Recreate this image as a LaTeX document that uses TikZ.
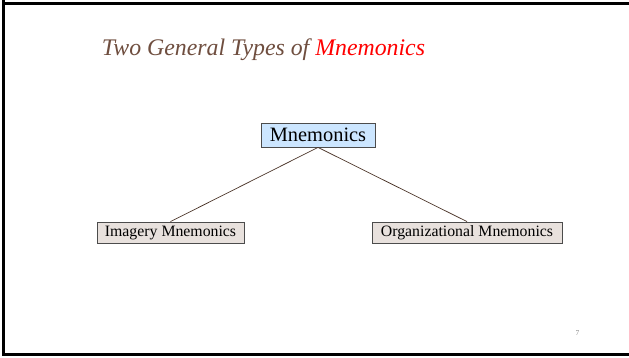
\documentclass[tikz,border=0pt]{standalone}
\usepackage{fontspec}
\setmainfont{Liberation Serif}
\definecolor{titlebrown}{HTML}{6F4E3F}
\definecolor{boxblue}{HTML}{CCE6FF}
\definecolor{boxgray}{HTML}{E8E1DD}
\definecolor{linebrown}{HTML}{4A3428}
\begin{document}
\begin{tikzpicture}[x=1pt,y=-1pt,
  topbox/.style={draw=black!70,line width=0.8pt,fill=boxblue,inner sep=0pt,minimum width=114pt,minimum height=24pt,font=\fontsize{20.4}{22}\selectfont},
  subbox/.style={draw=black!70,line width=0.8pt,fill=boxgray,inner sep=0pt,minimum height=21pt,font=\fontsize{15.8}{17}\selectfont},
  conn/.style={linebrown,line width=0.7pt}]
\useasboundingbox (0,0) rectangle (629,358);
\fill[white] (0,0) rectangle (629,358);
\draw[black,line width=3pt] (3.5,0) -- (3.5,354.5) -- (640,354.5);
\draw[black,line width=3pt] (3.5,3.5) -- (640,3.5);
\node[font=\fontsize{23.8}{28}\selectfont\itshape,text=titlebrown,anchor=base] (title) at (263.5,56) {Two General Types of \textcolor{red}{Mnemonics}};
\node[topbox] (m) at (318,135) {Mnemonics};
\node[subbox,minimum width=147pt] (im) at (170.5,232.5) {Imagery Mnemonics};
\node[subbox,minimum width=190pt] (om) at (467,232.5) {Organizational Mnemonics};
\draw[conn] (m.south) -- (im.north);
\draw[conn] (m.south) -- (om.north);
\node[font=\fontsize{7.5}{8}\selectfont,text=black!45] (pg) at (577.5,333) {7};
\end{tikzpicture}
\end{document}
